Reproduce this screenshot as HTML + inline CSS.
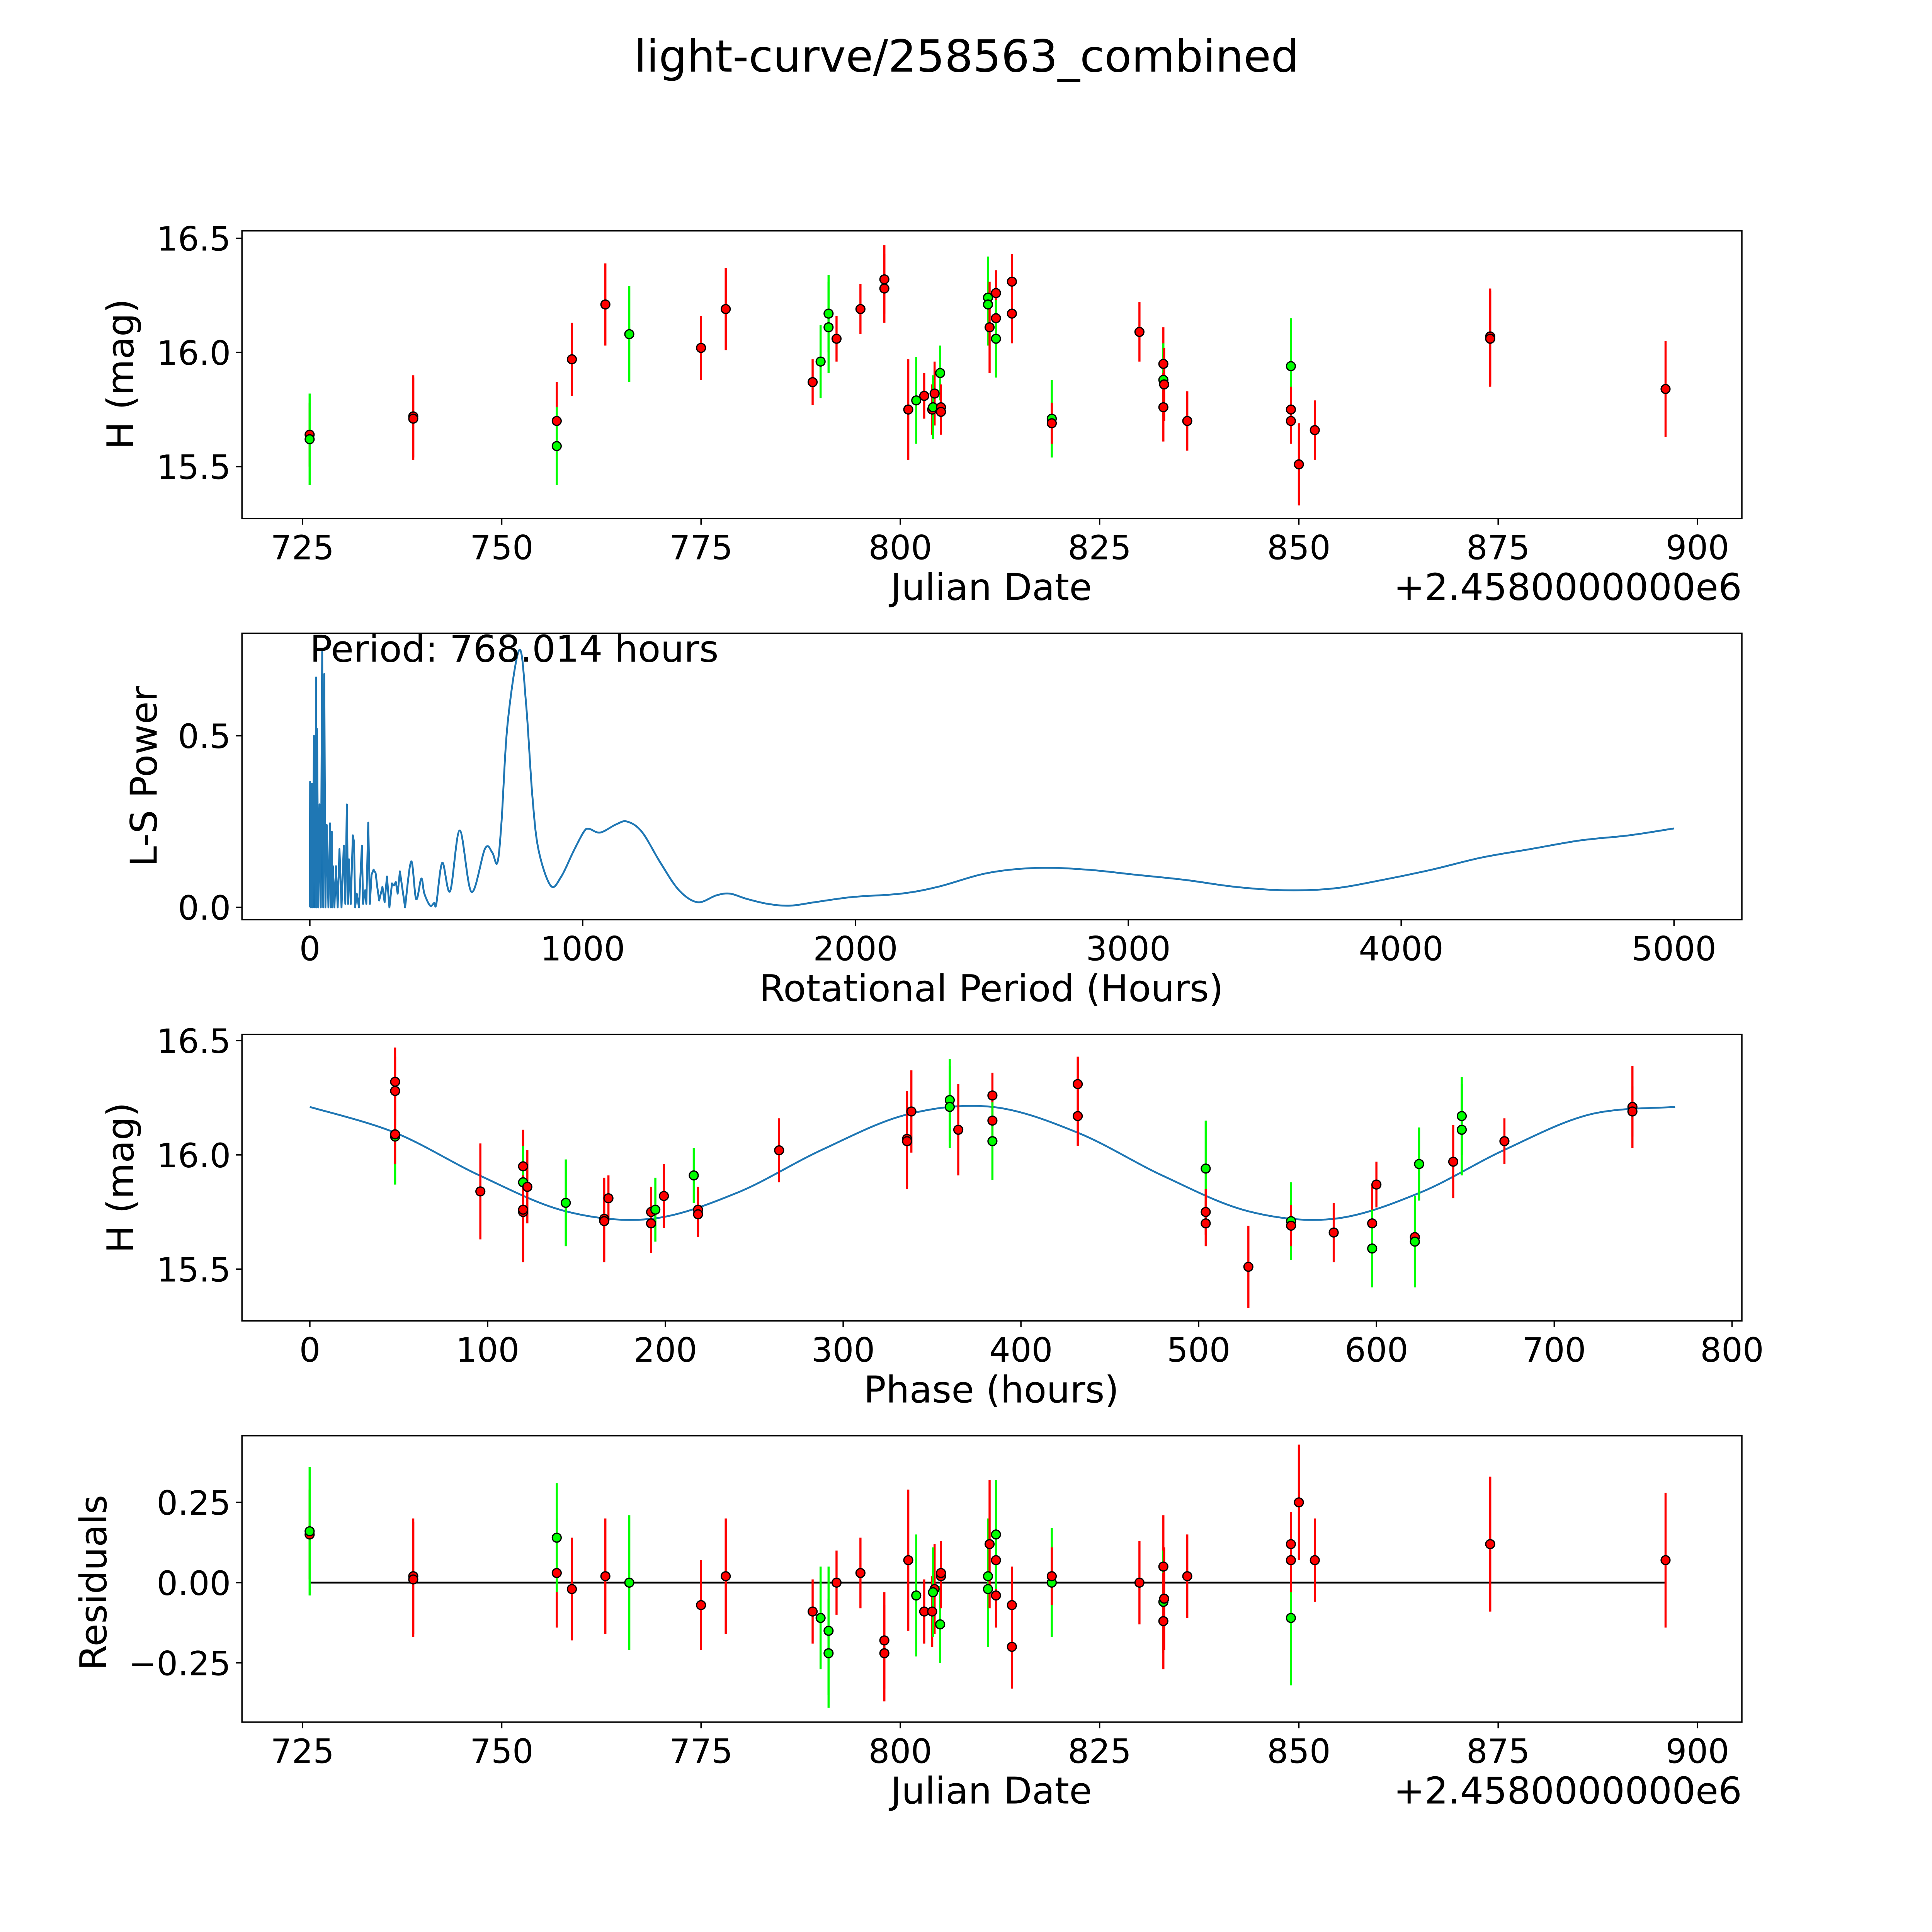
<!DOCTYPE html>
<html><head><meta charset="utf-8">
<style>
html,body{margin:0;padding:0;background:#fff;overflow:hidden;}
svg{display:block;width:min(100vw,100vh);height:min(100vw,100vh);}
text{font-family:"DejaVu Sans","Liberation Sans",sans-serif;fill:#000;}
</style></head>
<body>
<svg id="fig" xmlns="http://www.w3.org/2000/svg" viewBox="0 0 1565 1565" preserveAspectRatio="xMinYMin meet">
<rect x="0" y="0" width="1565" height="1565" fill="#fff"/>
<text x="783" y="58" font-size="36" text-anchor="middle">light-curve/258563_combined</text>
</svg>
<script>
// ---------- data ----------
const obsDay = [725.9,725.9,738.9,738.9,756.9,756.9,758.8,763.0,766.0,775.0,778.1,789.0,790.0,791.0,791.0,792.0,795.0,798.0,798.0,801.0,802.0,803.0,804.0,804.3,804.1,805.0,805.1,805.1,811.0,811.0,811.2,812.0,812.0,812.0,814.0,814.0,819.0,819.0,830.0,833.0,833.0,833.1,833.0,836.0,849.0,849.0,849.0,850.0,852.0,874.0,874.0,896.0];
const obsMag = [15.64,15.62,15.72,15.71,15.70,15.59,15.97,16.21,16.08,16.02,16.19,15.87,15.96,16.11,16.17,16.06,16.19,16.32,16.28,15.75,15.79,15.81,15.75,15.82,15.76,15.91,15.76,15.74,16.24,16.21,16.11,16.26,16.15,16.06,16.31,16.17,15.71,15.69,16.09,15.95,15.88,15.86,15.76,15.70,15.94,15.75,15.70,15.51,15.66,16.07,16.06,15.84];
const obsErr = [0.14,0.2,0.18,0.18,0.17,0.17,0.16,0.18,0.21,0.14,0.18,0.1,0.16,0.2,0.17,0.1,0.11,0.15,0.15,0.22,0.19,0.1,0.11,0.14,0.14,0.12,0.1,0.1,0.18,0.18,0.2,0.1,0.1,0.17,0.12,0.13,0.17,0.09,0.13,0.16,0.16,0.16,0.15,0.13,0.21,0.1,0.1,0.18,0.13,0.21,0.21,0.21];
const obsBand = ['r','g','r','r','r','g','r','r','g','r','r','r','g','g','g','r','r','r','r','r','g','r','r','r','g','g','r','r','g','g','r','r','r','g','r','r','g','r','r','r','g','r','r','r','g','r','r','r','r','r','r','r'];
const obsResid = [0.15,0.16,0.02,0.01,0.03,0.14,-0.02,0.02,0.0,-0.07,0.02,-0.09,-0.11,-0.15,-0.22,0.0,0.03,-0.18,-0.22,0.07,-0.04,-0.09,-0.09,-0.02,-0.03,-0.13,0.02,0.03,0.02,-0.02,0.12,0.07,-0.04,0.15,-0.07,-0.2,0.0,0.02,0.0,0.05,-0.06,-0.05,-0.12,0.02,-0.11,0.12,0.07,0.25,0.07,0.12,0.12,0.07];
const periodHours = 768.014;
const epochDay = 700.0;
// periodogram: spiky low-period part (drawn with straight segments)
const lsSpikePeriod = [0,1,4,7.5,11,15,19,22.6,24.5,26.4,31,35.4,40,45.2,49,52.8,57,61.8,68,73.8,77,80.6,82,84.4,90,95.7,102,108.5,116,124.3,130,135.6,140,143.2,150,157.5,162,166,171.8,180,190.7,195,199,202.7,207,214,220,226,233.6,241,247,254,266,274,282.6,291.6,301,308,315,321.8,330,349];
const lsSpikePower = [0,0.366,0,0.36,0,0.5,0,0.67,0,0.52,0,0.3,0,0.745,0,0.68,0,0.24,0,0.245,0,0.22,0,0.12,0,0.12,0,0.17,0,0.18,0.01,0.3,0.01,0.14,0.01,0.21,0.19,0,0.04,0,0.18,0.01,0.037,0.05,0.01,0.247,0.01,0.095,0.11,0.1,0.06,0.02,0.06,0.015,0.09,0,0.07,0.064,0.074,0.04,0.105,0];
// periodogram: smooth part (drawn with a smoothed curve)
const lsSmoothPeriod = [349,371.5,389.6,408.4,419.7,440.8,456,463.5,485.3,514,549.4,592.3,642,668.4,687.3,702.3,725,768,792.8,815.4,838,883,921,966,1004,1023,1064,1123,1163,1217,1285,1353,1421,1490,1540,1600,1680,1760,1851,1987,2167,2303,2484,2665,2846,3027,3208,3389,3570,3751,3932,4113,4294,4475,4656,4837,5000];
const lsSmoothPower = [0,0.134,0.024,0.084,0.04,0.005,0.013,0.01,0.13,0.047,0.224,0.045,0.171,0.16,0.13,0.247,0.537,0.75,0.59,0.326,0.168,0.063,0.089,0.163,0.22,0.229,0.218,0.242,0.25,0.22,0.13,0.05,0.015,0.035,0.04,0.025,0.01,0.005,0.015,0.03,0.04,0.06,0.1,0.115,0.11,0.095,0.08,0.06,0.05,0.055,0.08,0.11,0.145,0.17,0.195,0.21,0.23];
const modelPhase = [0,48,96,144,192,240,288,336,384,432,480,528,576,624,672,720,768];
const modelMag = [16.21,16.097,15.908,15.753,15.72,15.833,16.022,16.177,16.21,16.097,15.908,15.753,15.72,15.833,16.022,16.177,16.21];
const jdTicks = [725,750,775,800,825,850,875,900];
const magTicks = [15.5,16.0,16.5];
const lsXTicks = [0,1000,2000,3000,4000,5000];
const lsYTicks = [0.0,0.5];
const phaseTicks = [0,100,200,300,400,500,600,700,800];
const residTicks = [-0.25,0.00,0.25];

// ---------- helpers ----------
const NS='http://www.w3.org/2000/svg';
const svg=document.getElementById('fig');
function mk(tag,attrs,parent){const e=document.createElementNS(NS,tag);for(const k in attrs)e.setAttribute(k,attrs[k]);(parent||svg).appendChild(e);return e;}
function lin(d0,d1,r0,r1){return v=>r0+(v-d0)*(r1-r0)/(d1-d0);}
const colorOf=b=>b==='g'?'#00ff00':'#ff0000';
const TICK_FS=27, LABEL_FS=30;
function smoothPath(P,start){
  let d=start?('M'+P[0][0].toFixed(2)+' '+P[0][1].toFixed(2)):'';
  for(let i=0;i<P.length-1;i++){
    const p0=P[Math.max(i-1,0)],p1=P[i],p2=P[i+1],p3=P[Math.min(i+2,P.length-1)];
    d+=' C'+(p1[0]+(p2[0]-p0[0])/6).toFixed(2)+' '+(p1[1]+(p2[1]-p0[1])/6).toFixed(2)+' '+(p2[0]-(p3[0]-p1[0])/6).toFixed(2)+' '+(p2[1]-(p3[1]-p1[1])/6).toFixed(2)+' '+p2[0].toFixed(2)+' '+p2[1].toFixed(2);
  }
  return d;
}
function axesBox(name){
  const g=mk('g',{});
  
  
  return g;
}
function frame(g,x0,y0,x1,y1){
  const r=mk('rect',{x:x0,y:y0,width:x1-x0,height:y1-y0,fill:'none',stroke:'#000','stroke-width':1.1},g);
  
  
}
function xTicks(g,ticks,sx,yb,fmt){
  ticks.forEach(t=>{
    const x=sx(t);
    mk('line',{x1:x,y1:yb,x2:x,y2:yb+5,stroke:'#000','stroke-width':1.1},g);
    const tx=mk('text',{x:x,y:yb+33,'font-size':TICK_FS,'text-anchor':'middle'},g);
    tx.textContent=fmt(t);
    
    
  });
}
function yTicks(g,ticks,sy,xl,fmt){
  ticks.forEach(t=>{
    const y=sy(t);
    mk('line',{x1:xl,y1:y,x2:xl-5,y2:y,stroke:'#000','stroke-width':1.1},g);
    const tx=mk('text',{x:xl-9,y:y+10,'font-size':TICK_FS,'text-anchor':'end'},g);
    tx.textContent=fmt(t);
    
    
  });
}
function label(g,txt,x,y,rot,name,anchor,fs){
  const t=mk('text',{x:x,y:y,'font-size':fs||LABEL_FS,'text-anchor':anchor||'middle'},g);
  if(rot)t.setAttribute('transform','rotate(-90 '+x+' '+y+')');
  t.textContent=txt;
  
  
}
function errPoints(g,xs,ys,errs,bands,sx,sy){
  xs.forEach((xv,i)=>{
    const x=sx(xv);
    const l=mk('line',{x1:x,y1:sy(ys[i]-errs[i]),x2:x,y2:sy(ys[i]+errs[i]),stroke:colorOf(bands[i]),'stroke-width':1.7},g);
    
    
  });
  xs.forEach((xv,i)=>{
    const c=mk('circle',{cx:sx(xv),cy:sy(ys[i]),r:3.6,fill:colorOf(bands[i]),stroke:'#000','stroke-width':1},g);
    
    
  });
}
const fmtMag=v=>v.toFixed(1);
const fmtRes=v=>(v<0?'\u2212':'')+Math.abs(v).toFixed(2);

// ---------- panel 1: light curve ----------
{
  const X0=196,X1=1411,Y0=187,Y1=420;
  const g=axesBox('light-curve-panel');
  const sx=lin(725,900,245,1375), sy=lin(15.5,16.5,378,193);
  errPoints(g,obsDay,obsMag,obsErr,obsBand,sx,sy);
  frame(g,X0,Y0,X1,Y1);
  xTicks(g,jdTicks,sx,Y1,v=>String(v));
  yTicks(g,magTicks,sy,X0,fmtMag);
  label(g,'Julian Date',803,486,false,'x-axis-title');
  label(g,'+2.4580000000e6',1411,486,false,'x-axis-offset','end');
  label(g,'H (mag)',108,303,true,'y-axis-title');
}
// ---------- panel 2: periodogram ----------
{
  const X0=196,X1=1411,Y0=513,Y1=745;
  const g=axesBox('periodogram-panel');
  const sx=lin(0,5000,251,1356), sy=lin(0,0.5,735,596);
  let d=lsSpikePeriod.map((p,i)=>(i?'L':'M')+sx(p).toFixed(2)+' '+sy(lsSpikePower[i]).toFixed(2)).join(' ');
  const S=lsSmoothPeriod.map((p,i)=>[sx(p),sy(lsSmoothPower[i])]);
  d+=' L'+S[0][0].toFixed(2)+' '+S[0][1].toFixed(2)+smoothPath(S,false);
  const p=mk('path',{d:d,fill:'none',stroke:'#1f77b4','stroke-width':1.5,'stroke-linejoin':'round'},g);
  
  
  frame(g,X0,Y0,X1,Y1);
  xTicks(g,lsXTicks,sx,Y1,v=>String(v));
  yTicks(g,lsYTicks,sy,X0,fmtMag);
  label(g,'Rotational Period (Hours)',803,811,false,'x-axis-title');
  label(g,'L-S Power',127,629,true,'y-axis-title');
  label(g,'Period: '+periodHours.toFixed(3)+' hours',251,536,false,'period-annotation','start');
}
// ---------- panel 3: phase-folded ----------
{
  const X0=196,X1=1411,Y0=838,Y1=1070;
  const g=axesBox('phase-panel');
  const sx=lin(0,800,251,1403), sy=lin(15.5,16.5,1028,843);
  const phases=obsDay.map(dv=>{let ph=((dv-epochDay)*24)%periodHours;if(ph<0)ph+=periodHours;return ph;});
  const P=modelPhase.map((ph,i)=>[sx(ph),sy(modelMag[i])]);
  const m=mk('path',{d:smoothPath(P,true),fill:'none',stroke:'#1f77b4','stroke-width':1.5},g);
  
  
  errPoints(g,phases,obsMag,obsErr,obsBand,sx,sy);
  frame(g,X0,Y0,X1,Y1);
  xTicks(g,phaseTicks,sx,Y1,v=>String(v));
  yTicks(g,magTicks,sy,X0,fmtMag);
  label(g,'Phase (hours)',803,1136,false,'x-axis-title');
  label(g,'H (mag)',108,954,true,'y-axis-title');
}
// ---------- panel 4: residuals ----------
{
  const X0=196,X1=1411,Y0=1163,Y1=1395;
  const g=axesBox('residuals-panel');
  const sx=lin(725,900,245,1375), sy=lin(0,0.25,1282,1217);
  const z=mk('line',{x1:sx(obsDay[0]),y1:sy(0),x2:sx(obsDay[obsDay.length-1]),y2:sy(0),stroke:'#000','stroke-width':1.5},g);
  
  
  errPoints(g,obsDay,obsResid,obsErr,obsBand,sx,sy);
  frame(g,X0,Y0,X1,Y1);
  xTicks(g,jdTicks,sx,Y1,v=>String(v));
  yTicks(g,residTicks,sy,X0,fmtRes);
  label(g,'Julian Date',803,1461,false,'x-axis-title');
  label(g,'+2.4580000000e6',1411,1461,false,'x-axis-offset','end');
  label(g,'Residuals',86,1282,true,'y-axis-title');
}
</script>
</body></html>
